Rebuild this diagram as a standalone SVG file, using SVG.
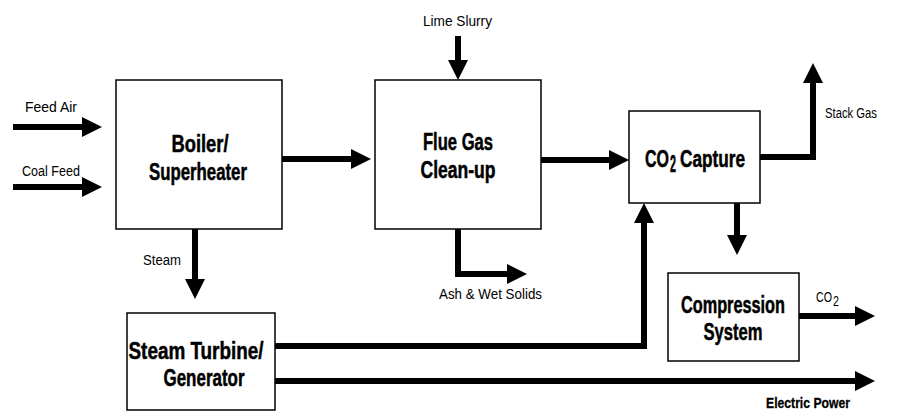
<svg xmlns="http://www.w3.org/2000/svg" width="899" height="414" viewBox="0 0 899 414">
<defs>
<style>
.box{fill:#fff;stroke:#000;stroke-width:1.5}
.t{font-family:'Liberation Sans',Arial,sans-serif;font-weight:bold;font-size:23.5px;text-anchor:middle;fill:#000;stroke:#000;stroke-width:0.5}
.s{text-anchor:start}
.l{font-family:'Liberation Sans',Arial,sans-serif;font-size:15.5px;fill:#000}
.c{fill:none;stroke:#000;stroke-width:6;marker-end:url(#ah)}
</style>
<marker id="ah" markerUnits="userSpaceOnUse" markerWidth="20" markerHeight="20" viewBox="0 0 20 20" refX="1" refY="10" orient="auto">
<path d="M0,0 L20,10 L0,20 z" fill="#000"/>
</marker>
</defs>
<rect width="899" height="414" fill="#fff"/>
<g id="connectors">
<path class="c" d="M13,127 H83"/>
<path class="c" d="M13,187 H83"/>
<path class="c" d="M282,159 H352"/>
<path class="c" d="M541,160 H610"/>
<path class="c" d="M458,36 V61"/>
<path class="c" d="M760,157 H813 V82"/>
<path class="c" d="M737,203 V236"/>
<path class="c" d="M799,316 H856"/>
<path class="c" d="M275,381 H856"/>
<path class="c" d="M275,346 H644 V222"/>
<path class="c" d="M195,229 V280"/>
<path class="c" d="M458,229 V274 H508"/>
</g>
<g id="boiler">
<rect class="box" x="116" y="80" width="166" height="149"/>
<text class="t" x="200" y="152" textLength="57" lengthAdjust="spacingAndGlyphs">Boiler/</text>
<text class="t" x="198" y="180" textLength="98" lengthAdjust="spacingAndGlyphs">Superheater</text>
</g>
<g id="flue-gas">
<rect class="box" x="375" y="80" width="166" height="149"/>
<text class="t" x="458" y="150" textLength="70" lengthAdjust="spacingAndGlyphs">Flue Gas</text>
<text class="t" x="458" y="178" textLength="75" lengthAdjust="spacingAndGlyphs">Clean-up</text>
</g>
<g id="co2-capture">
<rect class="box" x="629" y="111" width="131" height="92"/>
<text class="t s" x="645" y="167" textLength="24" lengthAdjust="spacingAndGlyphs">CO</text>
<text class="t s" x="670" y="172" font-size="14" stroke-width="0.3" textLength="6" lengthAdjust="spacingAndGlyphs">2</text>
<text class="t s" x="680" y="167" textLength="65" lengthAdjust="spacingAndGlyphs">Capture</text>
</g>
<g id="compression">
<rect class="box" x="668" y="273" width="131" height="88"/>
<text class="t" x="733" y="313" textLength="104" lengthAdjust="spacingAndGlyphs">Compression</text>
<text class="t" x="733" y="340" textLength="59" lengthAdjust="spacingAndGlyphs">System</text>
</g>
<g id="steam-turbine">
<rect class="box" x="127" y="313" width="148" height="97"/>
<text class="t" x="196" y="359" textLength="135" lengthAdjust="spacingAndGlyphs">Steam Turbine/</text>
<text class="t" x="204" y="386" textLength="81" lengthAdjust="spacingAndGlyphs">Generator</text>
</g>
<g id="labels">
<text class="l" x="25" y="112" textLength="52" lengthAdjust="spacingAndGlyphs">Feed Air</text>
<text class="l" x="22" y="176" textLength="58" lengthAdjust="spacingAndGlyphs">Coal Feed</text>
<text class="l" x="423" y="26" textLength="69" lengthAdjust="spacingAndGlyphs">Lime Slurry</text>
<text class="l" x="825" y="118" textLength="52" lengthAdjust="spacingAndGlyphs">Stack Gas</text>
<text class="l" x="143" y="265" textLength="38" lengthAdjust="spacingAndGlyphs">Steam</text>
<text class="l" x="439" y="299" textLength="103" lengthAdjust="spacingAndGlyphs">Ash &amp; Wet Solids</text>
<text class="l" x="816" y="302" textLength="16" lengthAdjust="spacingAndGlyphs">CO</text>
<text class="l" x="833" y="306" font-size="11" textLength="6" lengthAdjust="spacingAndGlyphs">2</text>
<text class="l" x="766" y="408" font-weight="bold" stroke="#000" stroke-width="0.3" textLength="84" lengthAdjust="spacingAndGlyphs">Electric Power</text>
</g>
</svg>
